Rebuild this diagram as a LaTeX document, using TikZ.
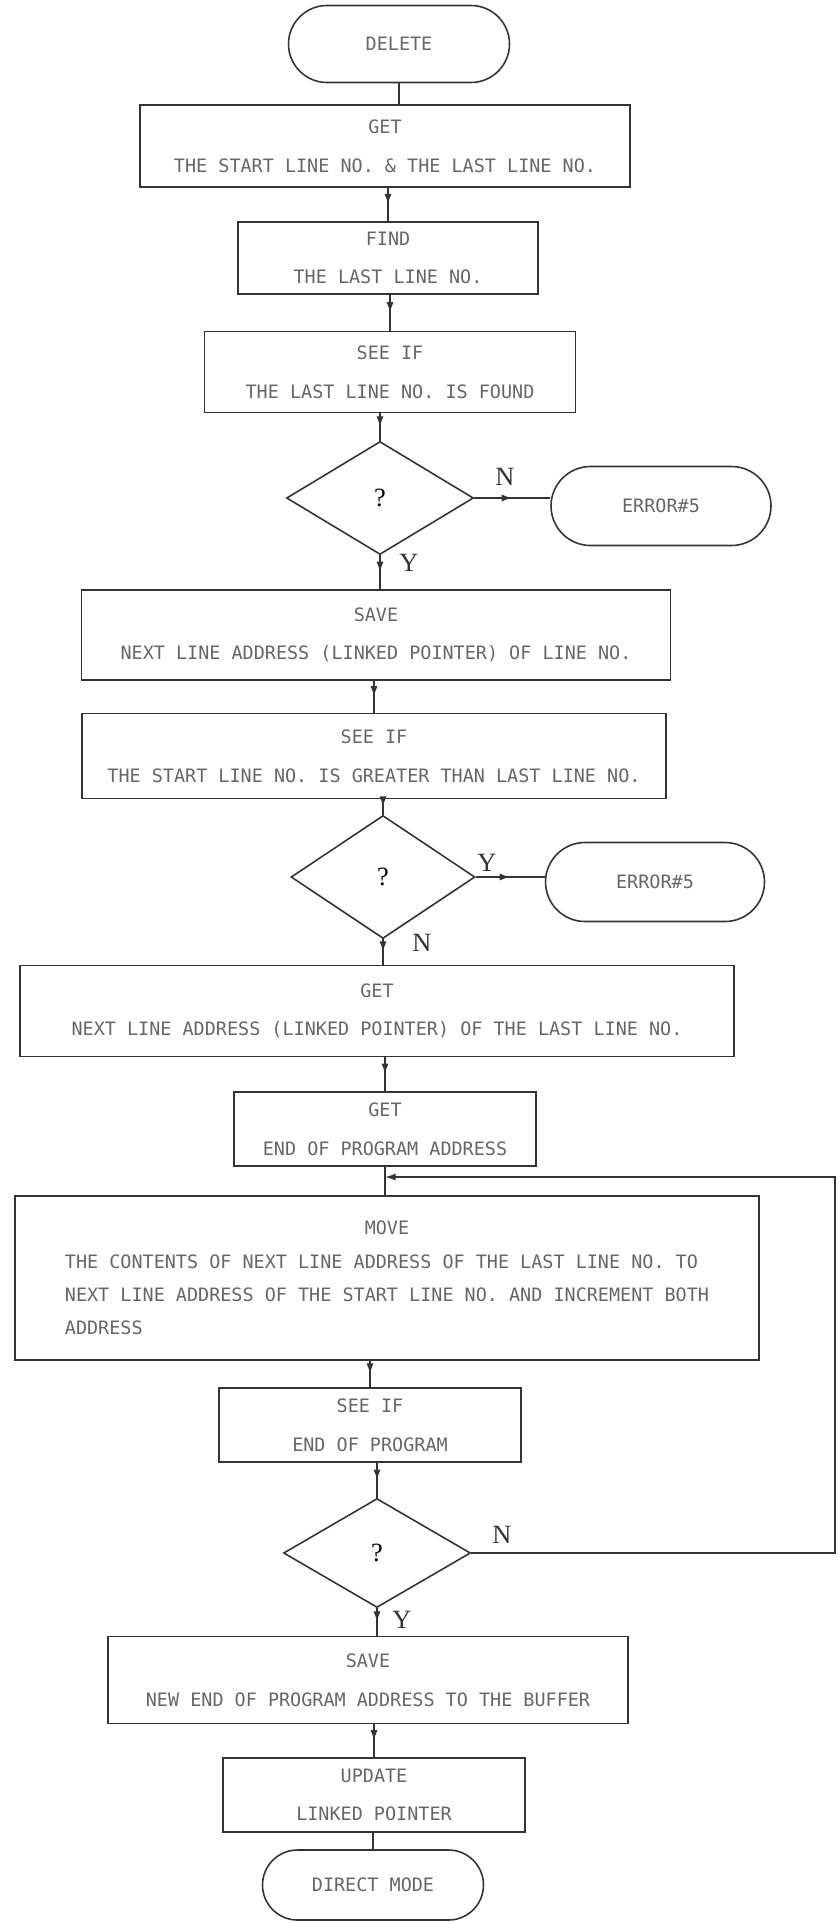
\documentclass[tikz,border=0pt]{standalone}
\usepackage{fontspec}
\newfontfamily\dotfont{DejaVu Sans Mono}
\newfontfamily\labfont{Liberation Serif}
\usepackage{tikz}
\usetikzlibrary{shapes.geometric, shapes.misc, arrows.meta, decorations.markings}

\tikzset{
  box/.style={draw=black!80, line width=0.9pt, rectangle, align=center, text=black!60,
    font=\dotfont\fontsize{10.5}{22}\selectfont, inner sep=2pt},
  term/.style={box, rounded rectangle},
  ask/.style={draw=black!80, line width=0.9pt, diamond, inner sep=0pt,
    font=\labfont\fontsize{15}{15}\selectfont},
  yn/.style={font=\labfont\fontsize{15}{15}\selectfont, text=black!80},
  sz/.style 2 args={minimum width=#1*0.02cm, minimum height=#2*0.02cm},
  wire/.style={draw=black!80, line width=0.9pt},
  flow/.style={wire, decoration={markings,
    mark=at position 0.5 with {\arrow{Latex[length=6pt,width=4pt]}}}, postaction={decorate}},
}

\begin{document}
\begin{tikzpicture}[x=0.02cm, y=-0.02cm]
        \useasboundingbox (0,0) rectangle (839,1923);
        % Start and first checks
        \node[term, sz={228}{77}] (delete) at (399,44) {DELETE};
        \node[box, sz={490}{82}] (get1) at (385,146) {GET\\THE START LINE NO. \& THE LAST LINE NO.};
        \node[box, sz={300}{72}] (find) at (388,258) {FIND\\THE LAST LINE NO.};
        \node[box, sz={371}{81}] (seeif1) at (390,372) {SEE IF\\THE LAST LINE NO. IS FOUND};
        \node[ask, sz={187}{113}] (d1) at (380,498) {?};
        \node[term, sz={227}{79}] (err1) at (661,506) {ERROR\#5};
        \node[box, sz={589}{90}] (save1) at (376,635) {SAVE\\NEXT LINE ADDRESS (LINKED POINTER) OF LINE NO.};
        \node[box, sz={584}{85}] (seeif2) at (374,756) {SEE IF\\THE START LINE NO. IS GREATER THAN LAST LINE NO.};
        \node[ask, sz={184}{123}] (d2) at (383,877) {?};
        \node[term, sz={226}{79}] (err2) at (655,882) {ERROR\#5};
        % Move loop
        \node[box, sz={714}{91}] (get3) at (377,1011) {GET\\NEXT LINE ADDRESS (LINKED POINTER) OF THE LAST LINE NO.};
        \node[box, sz={302}{74}] (get4) at (385,1129) {GET\\END OF PROGRAM ADDRESS};
        \node[box, sz={744}{164}, font=\dotfont\fontsize{10.5}{19}\selectfont] (move) at (387,1278)
            {\begin{tabular}{@{}l@{}}
             \multicolumn{1}{@{}c@{}}{MOVE}\\
             THE CONTENTS OF NEXT LINE ADDRESS OF THE LAST LINE NO. TO\\
             NEXT LINE ADDRESS OF THE START LINE NO. AND INCREMENT BOTH\\
             ADDRESS
             \end{tabular}};
        \node[box, sz={302}{74}] (seeif3) at (370,1425) {SEE IF\\END OF PROGRAM};
        \node[ask, sz={187}{109}] (d3) at (377,1553) {?};
        % End
        \node[box, sz={520}{87}] (save2) at (368,1680) {SAVE\\NEW END OF PROGRAM ADDRESS TO THE BUFFER};
        \node[box, sz={302}{74}] (update) at (374,1795) {UPDATE\\LINKED POINTER};
        \node[term, sz={228}{70}] (direct) at (373,1885) {DIRECT MODE};
        % Branch labels
        \node[yn] (n1) at (505,477) {N};
        \node[yn] (y1) at (409,563) {Y};
        \node[yn] (y2) at (487,863) {Y};
        \node[yn] (n2) at (422,943) {N};
        \node[yn] (n3) at (502,1535) {N};
        \node[yn] (y3) at (402,1620) {Y};
        % Connectors
        \draw[wire] (delete.south) -- (delete.south |- get1.north);
        \draw[flow] (find.north |- get1.south) -- (find.north);
        \draw[flow] (seeif1.north |- find.south) -- (seeif1.north);
        \draw[flow] (d1.north |- seeif1.south) -- (d1.north);
        \draw[flow] (d1.east) -- (d1.east -| err1.west);
        \draw[flow] (d1.south) -- (d1.south |- save1.north);
        \draw[flow] (seeif2.north |- save1.south) -- (seeif2.north);
        \draw[flow] (d2.north |- seeif2.south) -- (d2.north);
        \draw[flow] (d2.east) -- (d2.east -| err2.west);
        \draw[flow] (d2.south) -- (d2.south |- get3.north);
        \draw[flow] (get4.north |- get3.south) -- (get4.north);
        \draw[wire] (get4.south) -- (get4.south |- move.north);
        \draw[flow] (seeif3.north |- move.south) -- (seeif3.north);
        \draw[flow] (d3.north |- seeif3.south) -- (d3.north);
        \draw[flow] (d3.south) -- (d3.south |- save2.north);
        \draw[flow] (update.north |- save2.south) -- (update.north);
        \draw[wire] (direct.north |- update.south) -- (direct.north);
        % Loop back
        \coordinate (back) at (835,1177);
        \draw[wire, -{Latex[length=6pt,width=4pt]}] (d3.east) -| (back) -- (get4.south |- back);
    \end{tikzpicture}
\end{document}
